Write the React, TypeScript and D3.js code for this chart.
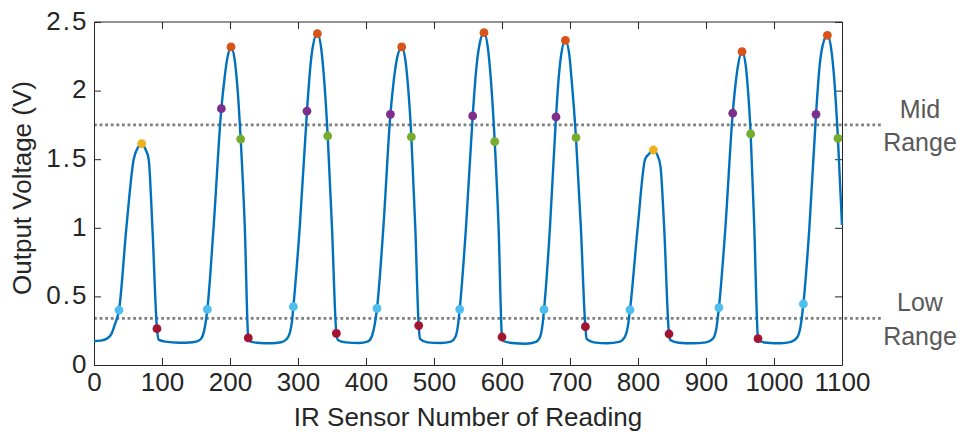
import React, { useEffect, useRef } from 'react';
import * as d3 from 'd3';

// IR sensor trace as [reading, volts], one array per pulse
const pulse1: [number, number][] = [
  [0, 0.175], [10, 0.178], [20, 0.195], [26, 0.23], [31, 0.3], [36.8, 0.4],
  [47.6, 1.0], [58.4, 1.5], [64, 1.58], [70.1, 1.613], [75.5, 1.575], [80.4, 1.5],
  [85.9, 1.0], [92.6, 0.265], [95, 0.185], [105, 0.17], [125, 0.162], [145, 0.166],
  [155, 0.18], [160, 0.215], [163.5, 0.29], [166.7, 0.406],
];
const pulse2: [number, number][] = [
  [175.8, 1.0], [187.3, 1.868], [191.5, 2.07], [195.5, 2.22], [201.5, 2.318], [207, 2.22],
  [210.5, 2.05], [215.7, 1.647], [221.8, 1.0], [226.9, 0.197], [229.5, 0.172], [240, 0.162],
  [260, 0.158], [275, 0.166], [283, 0.188], [288, 0.235], [291, 0.31], [293.2, 0.425],
];
const pulse3: [number, number][] = [
  [302.5, 1.0], [313.2, 1.85], [317.7, 2.15], [321, 2.296], [328.5, 2.415], [334.4, 2.296],
  [337.3, 2.15], [343.7, 1.669], [350, 1.0], [356.4, 0.231], [359, 0.18], [370, 0.165],
  [390, 0.16], [403, 0.172], [409, 0.215], [413, 0.3], [416.2, 0.413],
];
const pulse4: [number, number][] = [
  [425.5, 1.0], [435.9, 1.827], [440.5, 2.06], [445, 2.22], [452.5, 2.318], [458.5, 2.2],
  [461.5, 2.05], [466.7, 1.662], [472.5, 1.0], [477.5, 0.287], [479.5, 0.19], [490, 0.165],
  [510, 0.16], [525, 0.17], [531, 0.2], [535, 0.28], [537.8, 0.406],
];
const pulse5: [number, number][] = [
  [547, 1.0], [556.9, 1.815], [562, 2.15], [566, 2.31], [573.5, 2.422], [579.5, 2.3],
  [582.5, 2.15], [589.3, 1.628], [595, 1.0], [600, 0.204], [602, 0.175], [615, 0.16],
  [635, 0.155], [650, 0.168], [656, 0.205], [659.5, 0.29], [661.8, 0.403],
];
const pulse6: [number, number][] = [
  [670.5, 1.0], [679.4, 1.808], [683.5, 2.1], [687, 2.26], [693.2, 2.366], [699, 2.26],
  [702, 2.1], [708.8, 1.657], [716, 1.0], [722.6, 0.279], [724.5, 0.19], [735, 0.165],
  [755, 0.158], [772, 0.168], [780, 0.2], [785, 0.28], [788.2, 0.401],
];
const pulse7: [number, number][] = [
  [799.5, 1.0], [810.5, 1.5], [816.5, 1.54], [822.6, 1.567], [828, 1.535], [833, 1.45],
  [838.5, 1.0], [845.6, 0.226], [848, 0.18], [860, 0.162], [880, 0.158], [900, 0.165],
  [910, 0.19], [915, 0.26], [919, 0.418],
];
const pulse8: [number, number][] = [
  [928.5, 1.0], [939.3, 1.835], [943.5, 2.05], [947, 2.18], [953, 2.284], [958.5, 2.18],
  [961, 2.05], [965.7, 1.684], [971, 1.0], [976.5, 0.192], [978.5, 0.175], [990, 0.162],
  [1010, 0.158], [1025, 0.168], [1034, 0.2], [1039, 0.28], [1043.2, 0.445],
];
const pulse9: [number, number][] = [
  [1052, 1.0], [1061.8, 1.827], [1066.5, 2.15], [1070, 2.29], [1078.5, 2.403], [1084.5, 2.29],
  [1087.5, 2.15], [1094, 1.652], [1100, 1.02],
];

// detected events
const risingLow: [number, number][] = [
  [36.8, 0.4], [166.7, 0.406], [293.2, 0.425], [416.2, 0.413], [537.8, 0.406],
  [661.8, 0.403], [788.2, 0.401], [919, 0.418], [1043.2, 0.445],
];
const fallingLow: [number, number][] = [
  [92.6, 0.265], [226.9, 0.197], [356.4, 0.231], [477.5, 0.287], [600, 0.204],
  [722.6, 0.279], [845.6, 0.226], [976.5, 0.192],
];
const risingMid: [number, number][] = [
  [187.3, 1.868], [313.2, 1.85], [435.9, 1.827], [556.9, 1.815], [679.4, 1.808],
  [939.3, 1.835], [1061.8, 1.827],
];
const fallingMid: [number, number][] = [
  [215.7, 1.647], [343.7, 1.669], [466.7, 1.662], [589.3, 1.628], [708.8, 1.657],
  [965.7, 1.684], [1094, 1.652],
];
const peakHigh: [number, number][] = [
  [201.5, 2.318], [328.5, 2.415], [452.5, 2.318], [573.5, 2.422], [693.2, 2.366],
  [953, 2.284], [1078.5, 2.403],
];
const peakLow: [number, number][] = [[70.1, 1.613], [822.6, 1.567]];

const thresholds = [
  { value: 1.75, label: ['Mid', 'Range'] },
  { value: 0.34, label: ['Low', 'Range'] },
];
const thresholdEnd = 1160;

const xTicks = d3.range(0, 1101, 100);
const yTicks = [0, 0.5, 1, 1.5, 2, 2.5];
const yTickLabels = ['0', '0.5', '1', '1.5', '2', '2.5'];

const App = () => {
  const ref = useRef<SVGSVGElement>(null);

  useEffect(() => {
    const svg = d3.select(ref.current);
    svg.selectAll('*').remove();

    const font = '"Liberation Sans", Arial, Helvetica, sans-serif';
    const ink = '#262626';

    const x = d3.scaleLinear().domain([0, 1100]).range([94, 842]);
    const y = d3.scaleLinear().domain([0, 2.5]).range([365, 22]);

    // threshold lines + labels
    thresholds.forEach(t => {
      svg.append('line')
        .attr('x1', x(0)).attr('x2', x(thresholdEnd))
        .attr('y1', y(t.value)).attr('y2', y(t.value))
        .attr('stroke', '#7f7f7f')
        .attr('stroke-width', 2.8)
        .attr('stroke-dasharray', '2.8 2.8');
      svg.append('text')
        .attr('x', 920).attr('y', y(t.value) - 7)
        .attr('text-anchor', 'middle')
        .attr('font-family', font).attr('font-size', 25)
        .attr('fill', '#595959')
        .text(t.label[0]);
      svg.append('text')
        .attr('x', 920).attr('y', y(t.value) + 26.5)
        .attr('text-anchor', 'middle')
        .attr('font-family', font).attr('font-size', 25)
        .attr('fill', '#595959')
        .text(t.label[1]);
    });

    // axes
    const xAxis = svg.append('g')
      .attr('transform', `translate(0,${y(0)})`)
      .call(d3.axisBottom(x).tickValues(xTicks).tickSize(-7).tickFormat(d3.format('d')));
    xAxis.select('.domain').remove();
    xAxis.selectAll('text')
      .attr('y', 26).attr('dy', 0)
      .attr('font-size', 26).attr('font-family', font).attr('fill', ink);

    const yAxis = svg.append('g')
      .attr('transform', `translate(${x(0)},0)`)
      .call(d3.axisLeft(y).tickValues(yTicks).tickSize(-7)
        .tickFormat((d, i) => yTickLabels[i]));
    yAxis.select('.domain').remove();
    yAxis.selectAll('text')
      .attr('x', -5.5)
      .attr('dy', '0.28em')
      .attr('letter-spacing', 2)
      .attr('font-size', 26).attr('font-family', font).attr('fill', ink);

    const topAxis = svg.append('g')
      .attr('transform', `translate(0,${y(2.5)})`)
      .call(d3.axisTop(x).tickValues(xTicks).tickSize(-7).tickFormat(() => ''));
    topAxis.select('.domain').remove();

    const rightAxis = svg.append('g')
      .attr('transform', `translate(${x(1100)},0)`)
      .call(d3.axisRight(y).tickValues(yTicks).tickSize(-7).tickFormat(() => ''));
    rightAxis.select('.domain').remove();

    svg.selectAll('.tick line').attr('stroke', ink);

    svg.append('path')
      .attr('d', `M${x(0) + 0.5},${y(2.5)}V${y(0) + 0.5}H${x(1100) + 0.5}V${y(2.5)}H${x(0) + 0.5}`)
      .attr('fill', 'none')
      .attr('stroke', ink)
      .attr('stroke-width', 1);

    // axis titles
    svg.append('text')
      .attr('x', x(550)).attr('y', 426)
      .attr('text-anchor', 'middle')
      .attr('font-family', font).attr('font-size', 26).attr('fill', ink)
      .text('IR Sensor Number of Reading');

    svg.append('text')
      .attr('transform', `translate(31,188) rotate(-90)`)
      .attr('text-anchor', 'middle')
      .attr('font-family', font).attr('font-size', 26).attr('fill', ink)
      .text('Output Voltage (V)');

    // sensor trace
    const trace = [...pulse1, ...pulse2, ...pulse3, ...pulse4, ...pulse5,
      ...pulse6, ...pulse7, ...pulse8, ...pulse9];
    const line = d3.line<[number, number]>()
      .x(d => x(d[0]))
      .y(d => y(d[1]))
      .curve(d3.curveMonotoneX);
    svg.append('path')
      .datum(trace)
      .attr('d', line)
      .attr('fill', 'none')
      .attr('stroke', '#0072BD')
      .attr('stroke-width', 2.4)
      .attr('stroke-linejoin', 'round');

    // event markers
    const markers: [[number, number][], string][] = [
      [risingLow, '#4DBEEE'],
      [fallingLow, '#A2142F'],
      [risingMid, '#7E2F8E'],
      [fallingMid, '#77AC30'],
      [peakHigh, '#D95319'],
      [peakLow, '#EDB120'],
    ];
    markers.forEach(([pts, color]) => {
      svg.append('g')
        .selectAll('circle')
        .data(pts)
        .enter().append('circle')
        .attr('cx', d => x(d[0]))
        .attr('cy', d => y(d[1]))
        .attr('r', 4.4)
        .attr('fill', color);
    });
  }, []);

  return (
    <svg
      ref={ref}
      width={962}
      height={432}
      style={{ position: 'absolute', left: 0, top: 0, background: '#fff' }}
    />
  );
};

export default App;
